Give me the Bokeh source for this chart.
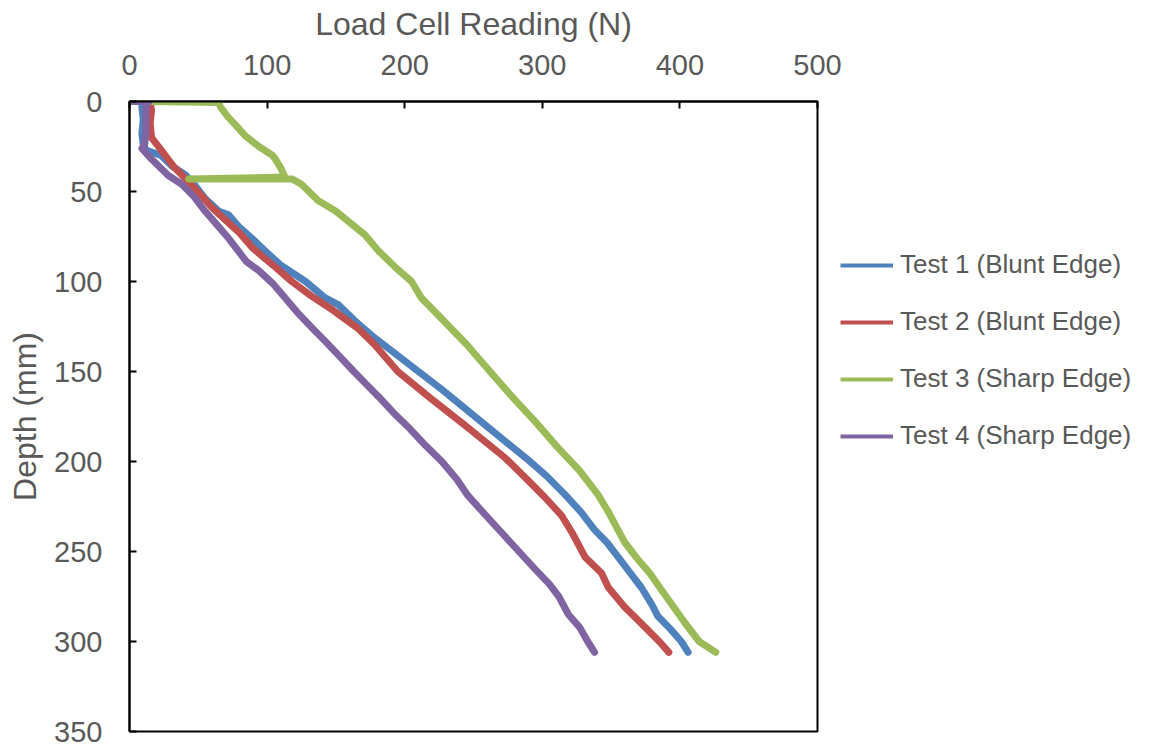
from bokeh.plotting import figure
from bokeh.models import Range1d, Legend, LegendItem, FixedTicker
from bokeh.embed import file_html
from bokeh.resources import INLINE

# ---- data ----
test1_depth = [0, 3, 10, 18, 24, 27, 30, 36, 41, 47, 54, 61, 63, 70, 76, 84, 91, 100, 109, 113,
               122, 130, 140, 150, 160, 170, 180, 190, 198, 208, 218, 228, 238, 245, 253, 262,
               270, 280, 286, 293, 300, 306]
test1_load = [9, 9, 10, 9, 10, 12, 23, 31, 41, 48, 55, 65, 72, 80, 89, 100, 110, 128, 142, 152,
              164, 176, 193, 210, 227, 243, 259, 275, 288, 303, 316, 328, 338, 347, 355, 364,
              372, 380, 384, 393, 401, 406]

test2_depth = [0, 5, 12, 20, 23, 28, 32, 37, 43, 52, 59, 66, 73, 81, 87, 92, 100, 108, 116, 126,
               135, 150, 165, 180, 198, 210, 220, 230, 240, 253, 262, 270, 281, 290, 300, 306]
test2_load = [15, 16, 15, 16, 19, 24, 28, 33, 41, 52, 60, 70, 80, 89, 98, 106, 118, 132, 148, 166,
              178, 195, 219, 244, 273, 289, 302, 314, 322, 331, 343, 348, 360, 372, 385, 392]

test3_depth = [0, 0.5, 3, 9, 13, 19, 25, 30, 32, 37, 42, 43, 43, 46, 55, 61, 74, 83, 92, 100,
               109, 120, 135, 150, 164, 178, 192, 205, 219, 228, 238, 245, 253, 262, 275, 290,
               300, 306]
test3_load = [15, 65, 66, 72, 77, 84, 94, 104, 106, 110, 113, 43, 118, 125, 137, 150, 171, 181, 193, 205,
              212, 226, 245, 262, 278, 295, 311, 327, 341, 348, 355, 360, 368, 378, 390, 404,
              414, 426]

test4_depth = [0, 0, 3, 10, 18, 24, 26, 32, 41, 46, 53, 61, 68, 76, 84, 89, 94, 101, 109, 118,
               126, 133, 141, 150, 157, 164, 173, 182, 191, 200, 210, 219, 230, 240, 250, 260,
               268, 275, 285, 292, 300, 306]
test4_load = [0, 14, 12, 12, 12, 11, 9, 16, 28, 38, 47, 55, 63, 72, 80, 85, 94, 104, 113, 123,
              133, 142, 152, 163, 172, 181, 192, 204, 215, 227, 238, 246, 259, 271, 283, 295,
              305, 312, 319, 327, 333, 338]

series_names = ["Test 1 (Blunt Edge)", "Test 2 (Blunt Edge)",
                "Test 3 (Sharp Edge)", "Test 4 (Sharp Edge)"]
series_colors = ["#4F81BD", "#C0504D", "#9BBB59", "#8064A2"]

x_ticks = [0, 100, 200, 300, 400, 500]
y_ticks = [0, 50, 100, 150, 200, 250, 300, 350]

FONT = "Liberation Sans"
TXT = "#595959"

p = figure(frame_width=688, frame_height=630, x_axis_location="above",
           output_backend="svg", toolbar_location=None,
           x_range=Range1d(0, 500), y_range=Range1d(350, 0),
           min_border_left=129, min_border_right=318,
           min_border_top=101, min_border_bottom=16)

p.grid.visible = False
p.outline_line_color = "black"
p.outline_line_width = 2
p.background_fill_color = "white"
p.border_fill_color = "white"

for ax in (p.xaxis[0], p.yaxis[0]):
    ax.axis_line_color = "black"
    ax.axis_line_width = 2
    ax.major_tick_line_color = "black"
    ax.major_tick_line_width = 2
    ax.major_tick_in = 7
    ax.major_tick_out = 0
    ax.minor_tick_line_color = None
    ax.major_label_text_font = FONT
    ax.major_label_text_font_size = "29px"
    ax.major_label_text_color = TXT
    ax.axis_label_text_font = FONT
    ax.axis_label_text_font_size = "32px"
    ax.axis_label_text_font_style = "normal"
    ax.axis_label_text_color = TXT

p.xaxis[0].ticker = FixedTicker(ticks=x_ticks)
p.yaxis[0].ticker = FixedTicker(ticks=y_ticks)
p.xaxis[0].axis_label = "Load Cell Reading (N)"
p.yaxis[0].axis_label = "Depth (mm)"
p.xaxis[0].major_label_standoff = 27
p.xaxis[0].axis_label_standoff = 10
p.yaxis[0].major_label_standoff = 27
p.yaxis[0].axis_label_standoff = 8

data = [(test1_load, test1_depth), (test2_load, test2_depth),
        (test3_load, test3_depth), (test4_load, test4_depth)]
items = []
for (xs, ys), name, col in zip(data, series_names, series_colors):
    # thinner twin underneath, used only as the legend swatch
    proxy = p.line(xs, ys, line_color=col, line_width=4)
    p.line(xs, ys, line_color=col, line_width=7, line_join="round", line_cap="round")
    items.append(LegendItem(label=name, renderers=[proxy]))

legend = Legend(items=items, location=(23, 280))
legend.label_text_font = FONT
legend.label_text_font_size = "26px"
legend.label_text_color = TXT
legend.glyph_width = 53
legend.glyph_height = 28
legend.label_height = 28
legend.label_standoff = 7
legend.spacing = 26
legend.padding = 0
legend.margin = 0
legend.border_line_color = None
legend.background_fill_alpha = 0
p.add_layout(legend, "right")

open("out.html", "w").write(file_html(p, INLINE))
